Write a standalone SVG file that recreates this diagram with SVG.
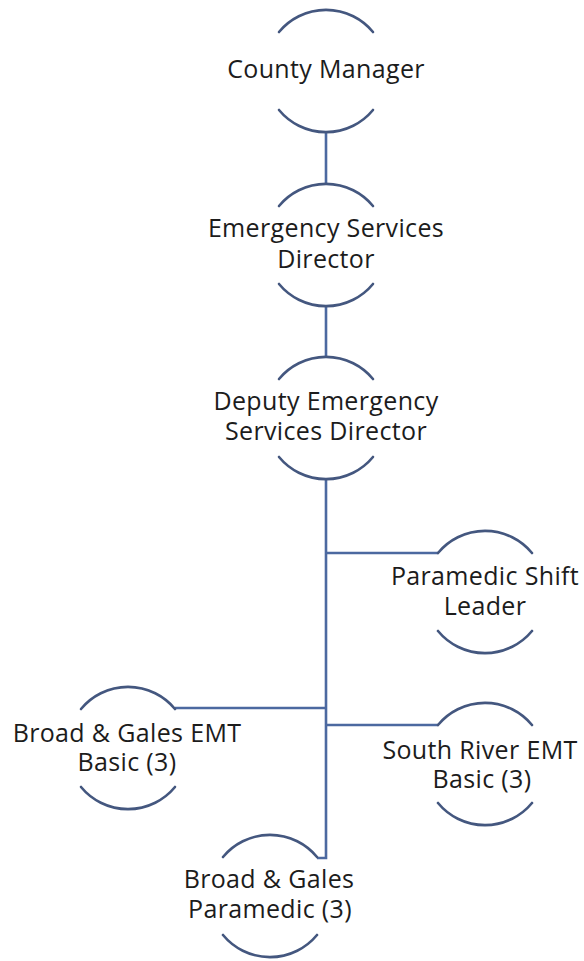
<svg xmlns="http://www.w3.org/2000/svg" xmlns:xlink="http://www.w3.org/1999/xlink" width="584" height="961" viewBox="0 0 584 961">
  <style>
    .arc { fill: none; stroke: #44577f; stroke-width: 2.6; stroke-linecap: round; }
    .conn { fill: none; stroke: #4c69a0; stroke-width: 2.6; }
    .lbl { font-family: "Open Sans", Lato, "Liberation Sans", sans-serif; font-size: 25px; letter-spacing: 0.35px; fill: #1c1c1c; text-anchor: middle; }
  </style>
  <defs>
    <g id="arcs">
      <path class="arc" d="M -47 -39 A 61 61 0 0 1 47 -39"/>
      <path class="arc" d="M -47 39 A 61 61 0 0 0 47 39"/>
    </g>
  </defs>
  <rect width="584" height="961" fill="#ffffff"/>
  <g id="connectors">
    <path class="conn" d="M326 132 V184"/>
    <path class="conn" d="M326 306 V357"/>
    <path class="conn" d="M326 479 V858 H317"/>
    <path class="conn" d="M326 553 H438"/>
    <path class="conn" d="M326 708 H175"/>
    <path class="conn" d="M326 725 H438"/>
  </g>
  <g id="county-manager">
    <use xlink:href="#arcs" href="#arcs" x="326" y="71"/>
    <text class="lbl" x="326" y="78">County Manager</text>
  </g>
  <g id="emergency-services-director">
    <use xlink:href="#arcs" href="#arcs" x="326" y="245"/>
    <text class="lbl" x="326" y="237">Emergency Services</text>
    <text class="lbl" x="326" y="268">Director</text>
  </g>
  <g id="deputy-director">
    <use xlink:href="#arcs" href="#arcs" x="326" y="418"/>
    <text class="lbl" x="326" y="410">Deputy Emergency</text>
    <text class="lbl" x="326" y="440">Services Director</text>
  </g>
  <g id="paramedic-shift-leader">
    <use xlink:href="#arcs" href="#arcs" x="485" y="592"/>
    <text class="lbl" x="485" y="585">Paramedic Shift</text>
    <text class="lbl" x="485" y="615">Leader</text>
  </g>
  <g id="broad-gales-emt">
    <use xlink:href="#arcs" href="#arcs" x="128" y="748"/>
    <text class="lbl" x="127" y="742">Broad &amp; Gales EMT</text>
    <text class="lbl" x="127" y="771">Basic (3)</text>
  </g>
  <g id="south-river-emt">
    <use xlink:href="#arcs" href="#arcs" x="485" y="764"/>
    <text class="lbl" x="480" y="759">South River EMT</text>
    <text class="lbl" x="482" y="788">Basic (3)</text>
  </g>
  <g id="broad-gales-paramedic">
    <use xlink:href="#arcs" href="#arcs" x="270" y="896"/>
    <text class="lbl" x="269" y="888">Broad &amp; Gales</text>
    <text class="lbl" x="270" y="918">Paramedic (3)</text>
  </g>
</svg>
